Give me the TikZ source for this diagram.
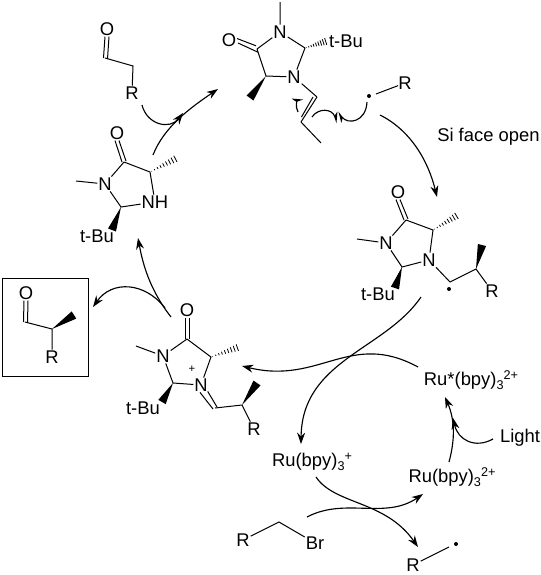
\documentclass[tikz,border=0pt]{standalone}
\usepackage{fontspec}
\setmainfont{Liberation Sans}
\usetikzlibrary{arrows.meta}
\usetikzlibrary{calc}
\tikzset{atom/.style = {inner sep=0.6pt, font=\fontsize{13.8}{14}\selectfont}}
\tikzset{lbl/.style = {inner sep=0pt, font=\fontsize{13.8}{14}\selectfont}}
\tikzset{rdot/.style = {fill, circle, inner sep=0, minimum size=3}}
\tikzset{bond/.style = {line width=0.75pt}}
\tikzset{rxn/.style = {line width=0.85pt, -{Stealth[length=8.5pt,width=6pt]}}}
\tikzset{curly/.style = {line width=0.85pt, -{Stealth[left,length=7pt,width=6pt]}}}
\newcommand{\wedgebond}[2]{\fill (#1) -- ($(#2)!3.2pt!90:(#1)$) -- ($(#2)!3.2pt!-90:(#1)$) -- cycle;}
\newcommand{\hashbond}[2]{\foreach \t in {0.06,0.17,...,0.99}{
    \draw[line width=0.6pt] ($(#1)!\t!(#2)!\t*2.8pt!90:(#2)$) -- ($(#1)!\t!(#2)!\t*2.8pt!-90:(#2)$);}}
\newcommand{\rusub}[1]{{\fontsize{9.5}{10}\selectfont\raisebox{-3pt}{3}\raisebox{5pt}{#1}}}
\begin{document}
\begin{tikzpicture}[x=0.75pt,y=-0.75pt]
  \useasboundingbox (0,0) rectangle (541,575);
  % top ring
  \node[atom] (tO) at (229,40) {O};
  \node[atom] (tN1) at (280,32) {N};
  \node[atom] (tN2) at (294,77) {N};
  \coordinate (tC1) at (257,49);
  \coordinate (tC2) at (305,48);
  \coordinate (tC3) at (266,76);
  \coordinate (tMe1) at (280,2);
  \coordinate (tMe2) at (250,98);
  \coordinate (tHash) at (327,41);
  \coordinate (tV1) at (317,97);
  \coordinate (tV2) at (301,122);
  \coordinate (tV3) at (321,143);
  \node[lbl] (tBu1) at (346,41) {t-Bu};
  \draw[bond] (tC1) -- (tN1) (tN1) -- (tC2) (tC2) -- (tN2) (tN2) -- (tC3) (tC3) -- (tC1);
  \draw[bond] (tN1) -- (tMe1) (tN2) -- (tV1) (tV2) -- (tV3);
  \draw[bond] (tV1) -- (tV2);
  \draw[bond] ($(tV1)+(-4,0)$) -- ($(tV2)+(0.5,-5)$);
  \draw[bond] ($(tC1)+(-1,-3.2)$) -- ($(tO)+(8,-1.5)$);
  \draw[bond] ($(tC1)+(1,3.2)$) -- ($(tO)+(9,3)$);
  \wedgebond{tC3}{tMe2}
  \hashbond{tC2}{tHash}
  % radical on top
  \node[rdot] (tDot) at (369,96) {};
  \node[lbl] (tR) at (405,83) {R};
  \coordinate (tRb) at (376,94);
  \draw[bond] (tRb) -- (tR);
  % curly arrows on the alkene
  \coordinate (k1) at (298,112); \coordinate (k2) at (303,99);
  \draw[curly] (k1) .. controls (295,106) and (297,101) .. (k2);
  \coordinate (k3) at (312,117); \coordinate (k4) at (337,123);
  \draw[curly] (k3) .. controls (318,108) and (332,108) .. (k4);
  \coordinate (k5) at (367,102); \coordinate (k6) at (338,112);
  \draw[curly] (k5) .. controls (366,122) and (348,125) .. (k6);
  % aldehyde
  \node[atom] (aO) at (107,29) {O};
  \node[atom] (aR) at (132,93) {R};
  \coordinate (aC1) at (105,58);
  \coordinate (aC2) at (133,66);
  \draw[bond] ($(aO.south)+(-2,0)$) -- ($(aC1)+(-1.5,0)$) (aC1) -- (aC2) -- (aR);
  \draw[bond] ($(aO.south)+(2,0)$) -- ($(aC1)+(2.5,1)$);
  % left ring
  \node[atom] (lO) at (117,133) {O};
  \node[atom] (lN) at (105,184) {N};
  \node[atom] (lNH) at (155,202) {NH};
  \coordinate (lC1) at (124,162);
  \coordinate (lC2) at (150,172);
  \coordinate (lC3) at (121,207);
  \coordinate (lMe1) at (76,181);
  \coordinate (lMe2) at (177,158);
  \coordinate (lMe3) at (112,230);
  \node[lbl] (lBu) at (97,236) {t-Bu};
  \draw[bond] (lC1) -- (lC2) -- (lNH) -- (lC3) -- (lN) -- (lC1) (lN) -- (lMe1);
  \draw[bond] ($(lC1)+(-2,0)$) -- ($(lO.south)+(-2,0)$) ($(lC1)+(2,-1)$) -- ($(lO.south)+(2,0)$);
  \wedgebond{lC3}{lMe3}
  \hashbond{lC2}{lMe2}
  % right ring
  \node[atom] (rO) at (398,192) {O};
  \node[atom] (rN1) at (386,243) {N};
  \node[atom] (rN2) at (429,260) {N};
  \node[atom] (rR) at (492,291) {R};
  \node[rdot] (rDot) at (449,289) {};
  \coordinate (rC1) at (406,220);
  \coordinate (rC2) at (433,230);
  \coordinate (rC3) at (402,267);
  \coordinate (rMe1) at (357,239);
  \coordinate (rMe2) at (458,215);
  \coordinate (rMe3) at (395,288);
  \coordinate (rC4) at (450,282);
  \coordinate (rC5) at (476,269);
  \coordinate (rMe4) at (482,245);
  \node[lbl] (rBu) at (378,294) {t-Bu};
  \draw[bond] (rC1) -- (rC2) -- (rN2) -- (rC3) -- (rN1) -- (rC1) (rN1) -- (rMe1);
  \draw[bond] (rN2) -- (rC4) -- (rC5) -- (rR);
  \draw[bond] ($(rC1)+(-2,0)$) -- ($(rO.south)+(-2,0)$) ($(rC1)+(2,-1)$) -- ($(rO.south)+(2,0)$);
  \wedgebond{rC3}{rMe3}
  \wedgebond{rC5}{rMe4}
  \hashbond{rC2}{rMe2}
  % lower ring
  \node[atom] (cO) at (187,310) {O};
  \node[atom] (cN1) at (163,356) {N};
  \node[atom] (cN2) at (201,385) {N};
  \node[atom,font=\fontsize{8.5}{9}\selectfont] (cPlus) at (192,369) {+};
  \node[atom] (cR) at (254,429) {R};
  \coordinate (cC1) at (187,339);
  \coordinate (cC2) at (211,357);
  \coordinate (cC3) at (173,383);
  \coordinate (cMe1) at (136,346);
  \coordinate (cMe2) at (239,347);
  \coordinate (cMe3) at (162,402);
  \coordinate (cC4) at (215,408);
  \coordinate (cC5) at (242,405);
  \coordinate (cMe4) at (257,383);
  \node[lbl] (cBu) at (143,408) {t-Bu};
  \draw[bond] (cC1) -- (cC2) -- (cN2) -- (cC3) -- (cN1) -- (cC1) (cN1) -- (cMe1);
  \draw[bond] (cC4) -- (cC5) -- (cR);
  \draw[bond] ($(cN2.south east)+(-1,-1)$) -- ($(cC4)+(2,-1)$) ($(cN2.south)+(-1,0)$) -- ($(cC4)+(-2,1)$);
  \draw[bond] ($(cC1)+(-2,0)$) -- ($(cO.south)+(-2,0)$) ($(cC1)+(2,0)$) -- ($(cO.south)+(2,0)$);
  \wedgebond{cC3}{cMe3}
  \wedgebond{cC5}{cMe4}
  \hashbond{cC2}{cMe2}
  % product in box
  \node[draw,line width=0.75pt,minimum width=64.5pt,minimum height=73.5pt,inner sep=0] (bBox) at (45,327) {};
  \node[atom] (bO) at (26,293) {O};
  \node[atom] (bR) at (52,357) {R};
  \coordinate (bC1) at (25,322);
  \coordinate (bC2) at (52,329);
  \coordinate (bMe) at (74,315);
  \draw[bond] ($(bO.south)+(-2,0)$) -- ($(bC1)+(-1.5,0)$) (bC1) -- (bC2) -- (bR);
  \draw[bond] ($(bO.south)+(2,0)$) -- ($(bC1)+(2.5,1)$);
  \wedgebond{bC2}{bMe}
  % photocatalyst
  \node[lbl] (ru1) at (312,462) {Ru(bpy)\rusub{+}};
  \node[lbl] (ru2) at (452,477) {Ru(bpy)\rusub{2+}};
  \node[lbl] (ru3) at (471,380) {Ru*(bpy)\rusub{2+}};
  \node[lbl] (light) at (520,438) {Light};
  \node[lbl,anchor=west] (si) at (437,137) {Si face open};
  % R-Br and R radical
  \node[atom] (bR1) at (243,540) {R};
  \node[atom] (bBr) at (315,543) {Br};
  \coordinate (bC3) at (279,522);
  \draw[bond] (bR1) -- (bC3) -- (bBr);
  \node[atom] (dR) at (413,565) {R};
  \node[rdot] (dDot) at (456,544) {};
  \coordinate (dEnd) at (449,547);
  \draw[bond] (dR) -- (dEnd);
  % cycle arrows
  \coordinate (a1) at (153,155); \coordinate (a2) at (218,89);
  \draw[rxn] (a1) .. controls (164,127) and (190,108) .. (a2);
  \coordinate (a3) at (142,105); \coordinate (a4) at (183,113);
  \draw[rxn] (a3) .. controls (147,125) and (170,130) .. (a4);
  \coordinate (a5) at (380,115); \coordinate (a6) at (437,197);
  \draw[rxn] (a5) .. controls (410,130) and (428,160) .. (a6);
  \coordinate (a7) at (421,297); \coordinate (a8) at (301,444);
  \draw[rxn] (a7) .. controls (385,350) and (302,360) .. (a8);
  \coordinate (a9) at (418,367); \coordinate (a10) at (242,366);
  \draw[rxn] (a9) .. controls (350,330) and (320,385) .. (a10);
  \coordinate (a11) at (171,317); \coordinate (a12) at (138,238);
  \draw[rxn] (a11) .. controls (150,290) and (143,265) .. (a12);
  \coordinate (a13) at (165,308); \coordinate (a14) at (93,307);
  \draw[rxn] (a13) .. controls (145,282) and (112,280) .. (a14);
  \coordinate (a15) at (316,477); \coordinate (a16) at (418,547);
  \draw[rxn] (a15) .. controls (335,505) and (385,500) .. (a16);
  \coordinate (a17) at (307,517); \coordinate (a18) at (423,494);
  \draw[rxn] (a17) .. controls (345,497) and (385,520) .. (a18);
  \coordinate (a19) at (449,462); \coordinate (a20) at (445,397);
  \draw[rxn] (a19) .. controls (455,440) and (455,420) .. (a20);
  \coordinate (a21) at (493,439); \coordinate (a22) at (453,418);
  \draw[rxn] (a21) .. controls (475,449) and (458,440) .. (a22);
\end{tikzpicture}
\end{document}
